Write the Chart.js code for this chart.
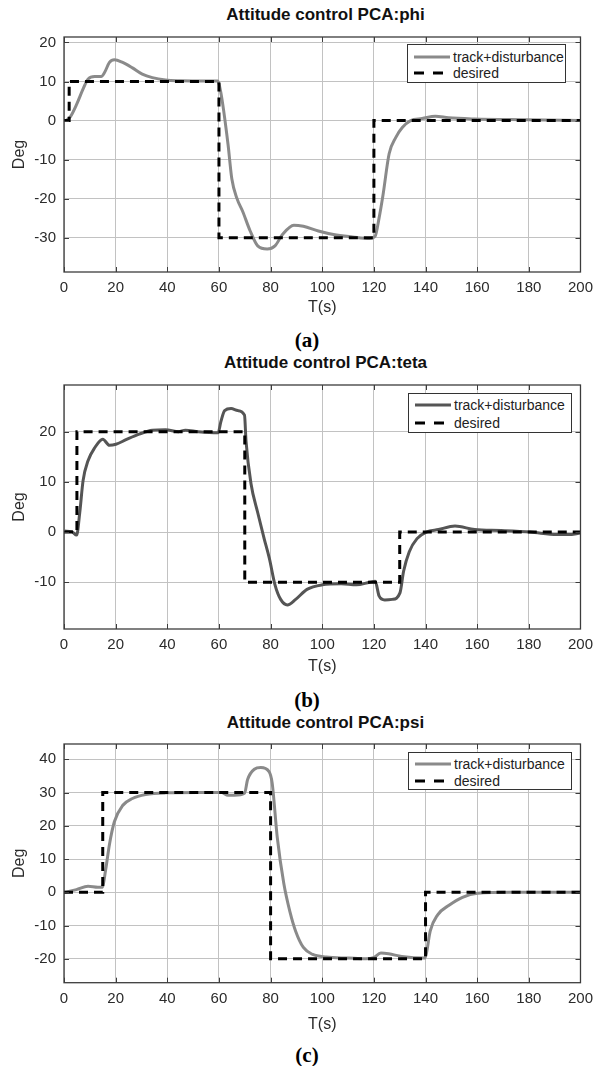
<!DOCTYPE html>
<html>
<head>
<meta charset="utf-8">
<script src="https://cdn.jsdelivr.net/npm/chart.js@4"></script>
<style>
  body { margin: 0; background: #fff; }
  #page { position: relative; width: 600px; height: 1066px; overflow: hidden; font-family: 'Liberation Sans', Arial, sans-serif; }
  canvas { position: absolute; left: 0; }
  .title { position: absolute; left: 64px; width: 523px; text-align: center; font-weight: bold; font-size: 17px; color: #111; line-height: 20px; margin-top: -10px; }
  .sub { position: absolute; left: 257px; width: 100px; text-align: center; font-family: 'Liberation Serif', 'Times New Roman', serif; font-weight: bold; font-size: 21px; line-height: 24px; margin-top: -12px; color: #000; }
  .legend { position: absolute; border: 1px solid #333; background: #fff; box-sizing: border-box; }
  .legend .row { position: absolute; left: 5px; height: 16px; margin-top: -8px; line-height: 16px; font-size: 14px; color: #222; white-space: nowrap; }
  .legend svg { position: absolute; left: 0; top: 0; }
  .legend .txt { position: absolute; left: 40px; top: 0; }
</style>
</head>
<body>
<div id="page">
  <div class="title" style="top:15px">Attitude control PCA:phi</div>
  <canvas id="chartA"></canvas>
  <div class="sub" style="top:340px">(a)</div>

  <div class="title" style="top:363px">Attitude control PCA:teta</div>
  <canvas id="chartB"></canvas>
  <div class="sub" style="top:700px">(b)</div>

  <div class="title" style="top:723px">Attitude control PCA:psi</div>
  <canvas id="chartC"></canvas>
  <div class="sub" style="top:1055px">(c)</div>
</div>

<script>
// ── data ───────────────────────────────────────────────────────────
const xTicks = [0, 20, 40, 60, 80, 100, 120, 140, 160, 180, 200];

// (a) phi
const phiTrackT = [0.8, 2.5, 4.8, 7.4, 9.3, 11.9, 14.4, 15.7, 17.6, 19.5, 22.7, 26.5, 30.3, 34.2, 39.3, 45, 55, 59.5,
  60.7, 63.5, 65, 67, 69.2, 72.1, 75, 78.7, 81.7, 84.6, 89, 92.7, 98.5, 104.4, 111.7, 118.3, 120.5,
  122, 123.5, 125.9, 128.5, 131, 134.2, 138.7, 143.8, 148.9, 159, 179, 200];
const phiTrack = [0, 1.0, 4, 8.1, 10.6, 11.3, 11.3, 12.3, 14.9, 15.6, 14.9, 13.5, 11.9, 11.0, 10.4, 10.2, 10.1, 10.1,
  7.3, -6, -15, -20, -23.3, -28.3, -32.1, -32.9, -32.1, -29.2, -26.8, -27.1, -28.3, -29.2, -29.8, -30.2, -29.6,
  -25, -19.2, -8.5, -4.3, -1.8, 0, 0.5, 1.1, 0.7, 0.4, 0.2, 0];
const phiDesT = [0, 2, 2, 60, 60, 120, 120, 200];
const phiDes = [0, 0, 10, 10, -30, -30, 0, 0];
const phiYTicks = [-30, -20, -10, 0, 10, 20];

// (b) teta
const tetaTrackT = [0.4, 3, 4.9, 6.1, 7.4, 9.3, 11.9, 15, 17.6, 20.1, 24, 29.1, 34.2, 39.3, 44.4, 47, 52, 59.7,
  60.7, 62.2, 64.7, 67.3, 69.9, 70.5, 72.4, 75, 77.5, 79.5, 81.7, 83.9, 86.5, 89.7, 94.1, 100, 107.3, 113.2,
  118.3, 120.5, 122, 124.2, 127.1, 130.1, 131.5, 133.7, 136.7, 140.3, 145, 151.4, 159, 169.3, 180.6, 190.9, 195.3, 200];
const tetaTrack = [0.2, 0.1, -0.6, 3.9, 10.3, 14.2, 16.8, 18.5, 17.3, 17.5, 18.4, 19.5, 20.3, 20.4, 20.0, 20.3, 20, 19.8,
  21.9, 24.2, 24.6, 24.2, 23.3, 18, 9.7, 3.9, -1.3, -5.2, -10.5, -13.4, -14.5, -13.4, -11.4, -10.5, -10.3, -10.5,
  -10, -9.8, -12.7, -13.5, -13.4, -12.1, -7.8, -3.9, -1.3, 0, 0.5, 1.2, 0.5, 0.3, 0, -0.5, -0.5, -0.2];
const tetaDesT = [0, 5, 5, 70, 70, 130, 130, 200];
const tetaDes = [0, 0, 20, 20, -10, -10, 0, 0];
const tetaYTicks = [-10, 0, 10, 20];

// (c) psi
const psiTrackT = [0.4, 4.8, 9.3, 13.1, 14.8, 16.1, 17.6, 19.5, 22.7, 26.5, 31.6, 39.3, 52, 61, 63.5, 66, 69.9,
  71.1, 73.7, 76.2, 79.4, 80.6, 82.6, 85.1, 87.5, 89.7, 92.7, 96.3, 101.5, 110.3, 116.9, 119.8, 122.7, 125.7,
  130.8, 139.6, 140.3, 141.8, 144.7, 149.1, 154.3, 160.1, 173.3, 200];
const psiTrack = [0, 0.8, 1.8, 1.5, 1.5, 6.6, 14.4, 21.2, 26.1, 28.2, 29.4, 29.9, 30, 30, 29.2, 29.2, 29.8,
  33.9, 37, 37.5, 36.3, 32.9, 16.4, 2.7, -5.9, -11.7, -16.6, -18.7, -19.5, -19.8, -20, -19.7, -18.3, -18.5,
  -19.3, -19.8, -18.5, -11.7, -6.8, -3.9, -1.5, -0.3, 0, 0];
const psiDesT = [0, 15, 15, 80, 80, 140, 140, 200];
const psiDes = [0, 0, 30, 30, -20, -20, 0, 0];
const psiYTicks = [-20, -10, 0, 10, 20, 30, 40];

const zip = (ts, vs) => ts.map((t, i) => ({ x: t, y: vs[i] }));

Chart.defaults.font.family = "'Liberation Sans', Arial, sans-serif";
Chart.defaults.color = '#2b2b2b';

// ── MATLAB style box with inward ticks ────────────────────────────
const boxPlugin = {
    id: 'matlabBox',
    afterDatasetsDraw(chart) {
        const { ctx, chartArea: a, scales: { x, y } } = chart;
        ctx.save();
        ctx.strokeStyle = '#3c3c3c';
        ctx.lineWidth = 1;
        ctx.beginPath();
        x.ticks.forEach(t => {
            const px = Math.round(x.getPixelForValue(t.value)) + 0.5;
            ctx.moveTo(px, a.bottom); ctx.lineTo(px, a.bottom - 5);
            ctx.moveTo(px, a.top); ctx.lineTo(px, a.top + 5);
        });
        y.ticks.forEach(t => {
            const py = Math.round(y.getPixelForValue(t.value)) + 0.5;
            ctx.moveTo(a.left, py); ctx.lineTo(a.left + 5, py);
            ctx.moveTo(a.right, py); ctx.lineTo(a.right - 5, py);
        });
        ctx.stroke();
        ctx.lineWidth = 1.3;
        ctx.strokeRect(a.left, a.top, a.right - a.left, a.bottom - a.top);
        ctx.restore();
    }
};

function makePanel(id, p) {
    const canvas = document.getElementById(id);
    const canvasTop = Math.round(p.plotTop) - 10;
    const h = Math.round(p.labelY + 12 - canvasTop);
    canvas.width = 600;
    canvas.height = h;
    canvas.style.top = canvasTop + 'px';
    const xAxisH = h - (p.plotBottom - canvasTop);

    new Chart(canvas, {
        type: 'line',
        data: {
            datasets: [{
                label: 'track+disturbance',
                data: zip(p.trackT, p.track),
                borderColor: p.trackColor,
                borderWidth: 3,
                pointRadius: 0,
                cubicInterpolationMode: 'monotone',
                order: 2
            }, {
                label: 'desired',
                data: zip(p.desT, p.des),
                borderColor: '#000',
                borderWidth: 3,
                borderDash: [9, 6],
                pointRadius: 0,
                tension: 0,
                order: 1
            }]
        },
        options: {
            responsive: false,
            animation: false,
            layout: { padding: { top: p.plotTop - canvasTop, right: 13, left: 0, bottom: 0 } },
            plugins: { legend: { display: false }, tooltip: { enabled: false } },
            scales: {
                x: {
                    type: 'linear', min: 0, max: 200,
                    afterBuildTicks: s => { s.ticks = xTicks.map(v => ({ value: v })); },
                    afterFit: s => { s.height = xAxisH; },
                    grid: { color: '#c2c2c2', drawTicks: false },
                    border: { display: false },
                    ticks: { padding: 7, font: { size: 15 } },
                    title: { display: true, text: 'T(s)', font: { size: 16 }, padding: { top: 0, bottom: 2.4 } }
                },
                y: {
                    min: p.yMin, max: p.yMax,
                    afterBuildTicks: s => { s.ticks = p.yTicks.map(v => ({ value: v })); },
                    afterFit: s => { s.width = 64; },
                    grid: { color: '#c2c2c2', drawTicks: false },
                    border: { display: false },
                    ticks: { padding: 8, font: { size: 15 } },
                    title: { display: true, text: 'Deg', font: { size: 16 }, padding: { top: 10.4, bottom: 0 } }
                }
            }
        },
        plugins: [boxPlugin]
    });
}

makePanel('chartA', {
    plotTop: 29.5, plotBottom: 272, labelY: 308, yMin: -38.8, yMax: 21.4, yTicks: phiYTicks,
    trackT: phiTrackT, track: phiTrack, desT: phiDesT, des: phiDes, trackColor: '#8a8a8a'
});
makePanel('chartB', {
    plotTop: 377.7, plotBottom: 629, labelY: 666.7, yMin: -19.3, yMax: 29.3, yTicks: tetaYTicks,
    trackT: tetaTrackT, track: tetaTrack, desT: tetaDesT, des: tetaDes, trackColor: '#555555'
});
makePanel('chartC', {
    plotTop: 736.7, plotBottom: 982.7, labelY: 1025, yMin: -27.2, yMax: 44.6, yTicks: psiYTicks,
    trackT: psiTrackT, track: psiTrack, desT: psiDesT, des: psiDes, trackColor: '#8a8a8a'
});

// ── legends (HTML boxes inside the axes) ──────────────────────────
function makeLegend(left, top, width, height, rowYs, trackColor) {
    const box = document.createElement('div');
    box.className = 'legend';
    Object.assign(box.style, { left: left + 'px', top: top + 'px', width: width + 'px', height: height + 'px' });
    const rows = [
        { text: 'track+disturbance', color: trackColor, dash: '' },
        { text: 'desired', color: '#000', dash: '10 9' }
    ];
    rows.forEach((r, i) => {
        const row = document.createElement('div');
        row.className = 'row';
        row.style.top = rowYs[i] + 'px';
        row.innerHTML = `<svg width="38" height="16"><line x1="1" y1="8" x2="37" y2="8" stroke="${r.color}" stroke-width="3" ${r.dash ? `stroke-dasharray="${r.dash}"` : ''}/></svg><span class="txt">${r.text}</span>`;
        box.appendChild(row);
    });
    document.getElementById('page').appendChild(box);
}

makeLegend(407, 44, 159, 39, [11.5, 28.2], '#8a8a8a');
makeLegend(408, 393, 164, 40, [11.3, 28.7], '#555555');
makeLegend(408, 752, 164, 38, [11.3, 28], '#8a8a8a');
</script>
</body>
</html>
